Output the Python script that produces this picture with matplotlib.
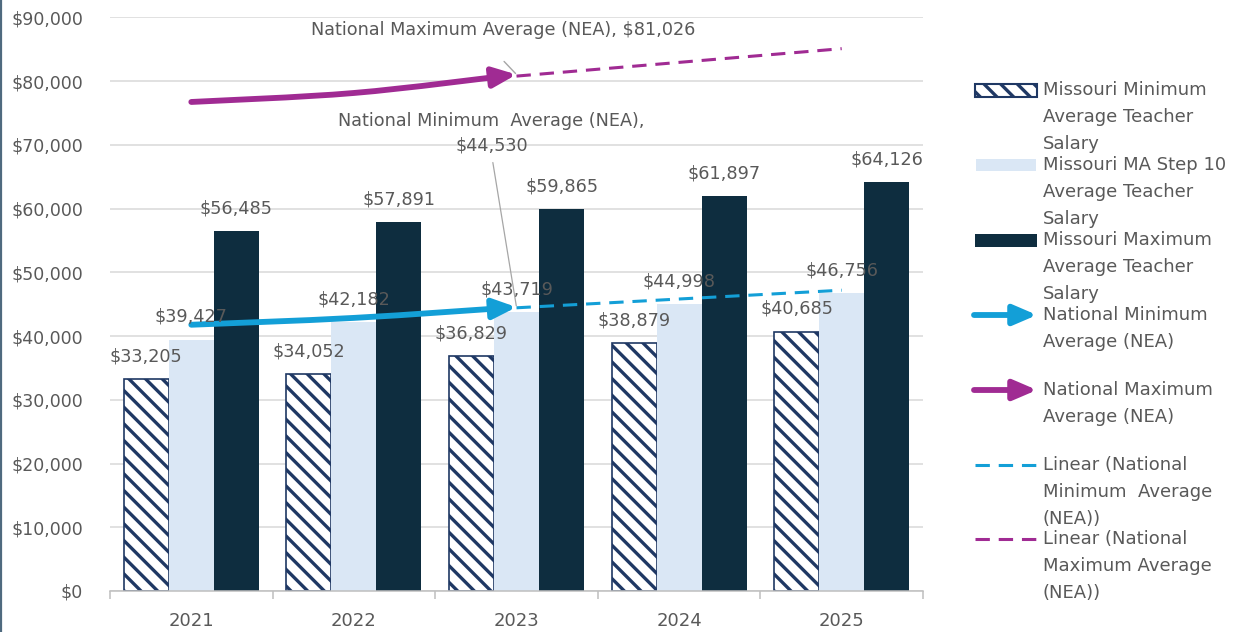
import numpy as np
import matplotlib
matplotlib.use("Agg")
import matplotlib.pyplot as plt
from matplotlib.patches import Rectangle, FancyArrowPatch, ArrowStyle
from matplotlib.lines import Line2D
from matplotlib.path import Path
from matplotlib.ticker import FuncFormatter

# ---------------- data ----------------
years = ["2021", "2022", "2023", "2024", "2025"]
mo_min = [33205, 34052, 36829, 38879, 40685]
mo_ma10 = [39427, 42182, 43719, 44998, 46756]
mo_max = [56485, 57891, 59865, 61897, 64126]
nat_min = [41770, 42845, 44530]      # 2021-2023
nat_max = [76720, 78130, 81026]      # 2021-2023

legend_labels = [
    "Missouri Minimum\nAverage Teacher\nSalary",
    "Missouri MA Step 10\nAverage Teacher\nSalary",
    "Missouri Maximum\nAverage Teacher\nSalary",
    "National Minimum\nAverage (NEA)",
    "National Maximum\nAverage (NEA)",
    "Linear (National\nMinimum  Average\n(NEA))",
    "Linear (National\nMaximum Average\n(NEA))",
]
min_label = "National Minimum  Average (NEA),\n$44,530"
max_label = "National Maximum Average (NEA), $81,026"

# ---------------- style ----------------
NAVY = "#1F3864"
LIGHT = "#DAE7F5"
DARK = "#0E2D3F"
BLUE = "#139FD7"
PURPLE = "#A02B93"
TXT = "#595959"
GRID = "#D9D9D9"
HATCH = "\\\\"

plt.rcParams["font.family"] = ["DejaVu Sans"]
plt.rcParams["hatch.linewidth"] = 2.4
plt.rcParams["hatch.color"] = NAVY

W, H = 1234, 632
fig = plt.figure(figsize=(W / 100, H / 100), dpi=100)
fig.patch.set_facecolor("white")
ax = fig.add_axes([110 / W, 41 / H, 813 / W, 574 / H])

x = np.arange(len(years))
bw = 0.277
ax.bar(x - bw, mo_min, bw, facecolor="white", edgecolor=NAVY, hatch=HATCH,
       linewidth=1.2, zorder=2)
ax.bar(x, mo_ma10, bw, color=LIGHT, linewidth=0, zorder=2)
ax.bar(x + bw, mo_max, bw, color=DARK, linewidth=0, zorder=2)

# data labels
for off, vals in ((-bw, mo_min), (0, mo_ma10), (bw, mo_max)):
    for xi, v in zip(x, vals):
        ax.annotate(f"${v:,}", (xi + off, v), xytext=(0, 16.5),
                    textcoords="offset points", ha="center", va="center",
                    fontsize=12.7, color=TXT, zorder=6)

# linear trendlines (forecast forward to 2025); the fitted part is hidden
# under the series line, so only the forecast segment is drawn
xn = np.arange(len(nat_min))
xf = x[len(nat_min) - 1:]
for vals, col in ((nat_min, BLUE), (nat_max, PURPLE)):
    coef = np.polyfit(xn, vals, 1)
    ax.plot(xf, np.polyval(coef, xf), color=col, lw=2.2, dashes=(4.7, 2.9),
            zorder=3)


def smooth_path(xs, ys):
    pts = np.column_stack([xs, ys]).astype(float)
    n = len(pts)
    verts = [pts[0]]
    codes = [Path.MOVETO]
    for i in range(n - 1):
        p0 = pts[max(i - 1, 0)]
        p1 = pts[i]
        p2 = pts[i + 1]
        p3 = pts[min(i + 2, n - 1)]
        c1 = p1 + (p2 - p0) / 6.0
        c2 = p2 - (p3 - p1) / 6.0
        verts += [c1, c2, p2]
        codes += [Path.CURVE4] * 3
    return Path(np.array(verts), codes)


LW_ARROW = 4.2
head = ArrowStyle("-|>", head_length=0.7, head_width=0.3)
for vals, col in ((nat_min, BLUE), (nat_max, PURPLE)):
    arr = FancyArrowPatch(path=smooth_path(xn, vals), arrowstyle=head,
                          mutation_scale=20, lw=LW_ARROW, color=col, zorder=4,
                          capstyle="round", joinstyle="round")
    ax.add_patch(arr)

# labels for the national series
ax.annotate(max_label, (xn[-1], nat_max[-1]), xytext=(-9.4, 32.4),
            textcoords="offset points", ha="center", va="center",
            fontsize=12.7, color=TXT, zorder=6,
            arrowprops=dict(arrowstyle="-", color="#A6A6A6", lw=1.0,
                            relpos=(0.445, 0), shrinkA=20, shrinkB=1))
ax.annotate(min_label, (xn[-1], nat_min[-1]), xytext=(-18, 125.3),
            textcoords="offset points", ha="center", va="center",
            fontsize=12.7, color=TXT, zorder=6, linespacing=1.45,
            arrowprops=dict(arrowstyle="-", color="#A6A6A6", lw=0.9,
                            relpos=(0.5, 0), shrinkA=4, shrinkB=1))

# axes styling
ax.set_xlim(-0.5, len(years) - 0.5)
ax.set_ylim(0, 90050)
ax.set_yticks(np.arange(0, 90001, 10000))
ax.yaxis.set_major_formatter(FuncFormatter(lambda v, p: f"${v:,.0f}"))
ax.set_xticks(x, years)
ax.set_xticks(np.arange(-0.5, len(years), 1), minor=True)
ax.tick_params(axis="x", which="major", length=0, pad=15, labelsize=13,
               labelcolor=TXT)
ax.tick_params(axis="x", which="minor", length=6, width=1.1, color="#BFBFBF",
               direction="out")
ax.tick_params(axis="y", length=0, pad=19.4, labelsize=12.5, labelcolor=TXT)
for s in ("left", "top", "right"):
    ax.spines[s].set_visible(False)
ax.spines["bottom"].set_color("#BFBFBF")
ax.spines["bottom"].set_linewidth(1.1)
ax.yaxis.grid(True, color=GRID, lw=1.1)
ax.set_axisbelow(True)


# ---------------- legend (manual, Excel-like) ----------------
def fx(px):
    return px / W


def fy(py):
    return 1 - py / H


tf = fig.transFigure
leg_y = [90, 165, 240, 315, 390, 465, 539]
step = 27
for lab, y0 in zip(legend_labels, leg_y):
    for j, line in enumerate(lab.split("\n")):
        fig.text(fx(1043), fy(y0 + step * j), line, ha="left", va="center",
                 fontsize=13, color=TXT)

fig.add_artist(Rectangle((fx(975), fy(96.5)), 62 / W, 13 / H, transform=tf,
                         facecolor="white", edgecolor=NAVY, hatch=HATCH,
                         lw=1.5))
fig.add_artist(Rectangle((fx(976), fy(171)), 60 / W, 12 / H, transform=tf,
                         facecolor=LIGHT, lw=0))
fig.add_artist(Rectangle((fx(975), fy(246.5)), 62 / W, 13 / H, transform=tf,
                         facecolor=DARK, lw=0))
for yy, col in ((leg_y[3], BLUE), (leg_y[4], PURPLE)):
    fig.add_artist(FancyArrowPatch((fx(974), fy(yy)), (fx(1037), fy(yy)),
                                   transform=tf, arrowstyle=head,
                                   mutation_scale=20, lw=LW_ARROW, color=col,
                                   shrinkA=0, shrinkB=0, capstyle="round"))
for yy, col in ((leg_y[5], BLUE), (leg_y[6], PURPLE)):
    fig.add_artist(Line2D([fx(975), fx(1037)], [fy(yy), fy(yy)], transform=tf,
                          color=col, lw=2.2, dashes=(4.7, 2.9)))

# left border of the chart frame
fig.add_artist(Line2D([fx(1), fx(1)], [0, 1], transform=tf, color="#4F6A7F",
                      lw=1.6))

fig.savefig("out.png", dpi=100)
